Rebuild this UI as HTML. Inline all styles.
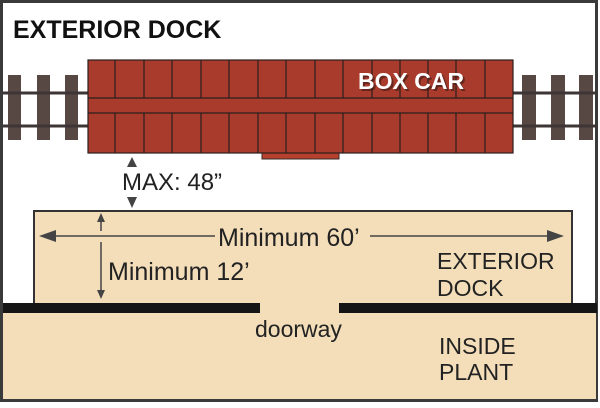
<!DOCTYPE html>
<html><head><style>
body{margin:0;width:600px;height:403px;overflow:hidden;background:#fff}
</style></head><body>
<svg width="600" height="403" xmlns="http://www.w3.org/2000/svg" font-family="Liberation Sans, Arial, sans-serif">
<rect x="1.5" y="1.5" width="595" height="399" fill="#fff" stroke="#3a3a3a" stroke-width="3"/>
<text x="13" y="38" font-size="25" font-weight="bold" fill="#111">EXTERIOR DOCK</text>
<g fill="#574843">
<rect x="8" y="75" width="13" height="65"/><rect x="37" y="75" width="13" height="65"/><rect x="65" y="75" width="13" height="65"/>
<rect x="522" y="75" width="14" height="65"/><rect x="551" y="75" width="14" height="65"/><rect x="579" y="75" width="14" height="65"/>
</g>
<g stroke="#3e3636" stroke-width="3">
<line x1="3" y1="93" x2="597" y2="93"/><line x1="3" y1="126" x2="597" y2="126"/>
</g>
<rect x="262" y="152" width="77" height="7" fill="#b5402e" stroke="#3a2a25" stroke-width="1"/>
<rect x="88" y="60" width="425" height="93" fill="#a83b2b" stroke="#2a1f1c" stroke-width="1.2"/>
<g stroke="#2a1f1c" stroke-width="1.2">
<line x1="88" y1="98" x2="513" y2="98"/><line x1="88" y1="113" x2="513" y2="113"/>
<path d="M115 60V98M144 60V98M172 60V98M201 60V98M229 60V98M258 60V98M286 60V98M315 60V98M343 60V98M372 60V98M400 60V98M428 60V98M456 60V98M485 60V98
M115 113V153M144 113V153M172 113V153M201 113V153M229 113V153M258 113V153M286 113V153M315 113V153M343 113V153M372 113V153M400 113V153M428 113V153M456 113V153M485 113V153"/>
</g>
<text x="360" y="91" font-size="23" font-weight="bold" fill="#3a1a14" opacity="0.6">BOX CAR</text>
<text x="358" y="89" font-size="23" font-weight="bold" fill="#fff">BOX CAR</text>
<path d="M127 167L132 157L137 167Z M127 197L137 197L132 208Z" fill="#444"/>
<text x="122" y="190" font-size="24" fill="#222">MAX: 48”</text>
<rect x="3" y="305" width="593" height="94" fill="#f3deb9"/>
<rect x="34" y="211" width="538" height="100" fill="#f3deb9"/>
<path d="M34 305V211H572V305" fill="none" stroke="#333" stroke-width="2"/>
<rect x="3" y="303" width="257" height="10" fill="#151515"/>
<rect x="339" y="303" width="258" height="10" fill="#151515"/>
<g stroke="#444" stroke-width="1.5">
<line x1="45" y1="236" x2="215" y2="236"/><line x1="370" y1="236" x2="555" y2="236"/>
<line x1="101" y1="218" x2="101" y2="231"/><line x1="101" y1="242" x2="101" y2="293"/>
</g>
<path d="M39 236L56 230L56 242Z M564 236L547 230L547 242Z M97 222L101 213L105 222Z M97 290L105 290L101 299Z" fill="#444"/>
<text x="218" y="246" font-size="25" fill="#222">Minimum 60’</text>
<text x="108" y="280" font-size="25" fill="#222">Minimum 12’</text>
<text x="437" y="269" font-size="23" fill="#222">EXTERIOR</text>
<text x="437" y="296" font-size="23" fill="#222">DOCK</text>
<text x="255" y="337" font-size="23" fill="#222">doorway</text>
<text x="439" y="354" font-size="23" fill="#222">INSIDE</text>
<text x="439" y="380" font-size="23" fill="#222">PLANT</text>
</svg>
</body></html>
